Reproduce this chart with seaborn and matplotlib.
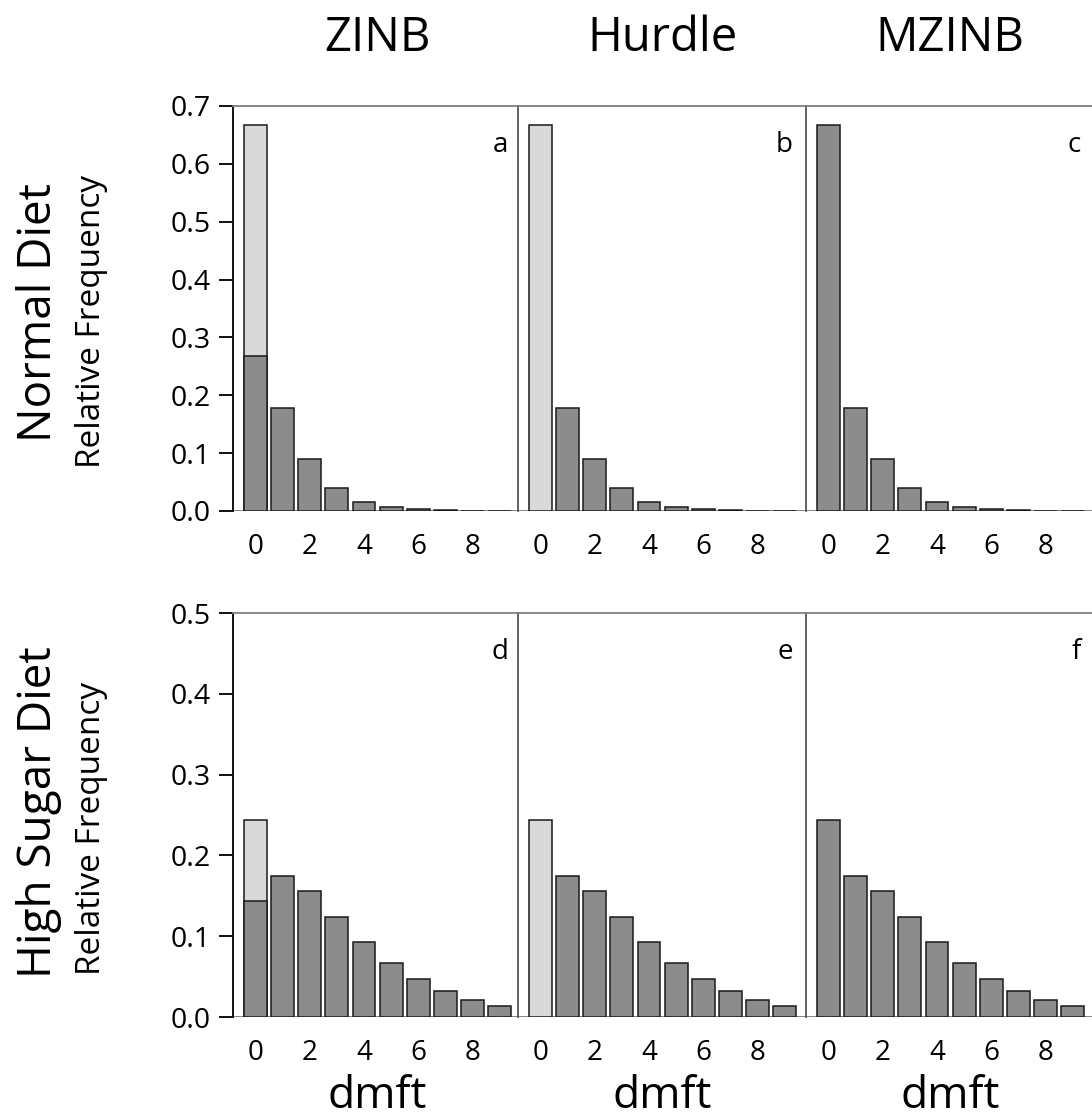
import numpy as np
import pandas as pd
import matplotlib
matplotlib.use("Agg")
import matplotlib.pyplot as plt
import seaborn as sns

# ── DATA ────────────────────────────────────────────────────────────────────
dmft = list(range(10))
models = ["ZINB", "Hurdle", "MZINB"]
diets = ["Normal Diet", "High Sugar Diet"]
panel_tags = [["a", "b", "c"], ["d", "e", "f"]]

# observed zero proportion (light bar / full zero bar)
zero_total = [0.667, 0.244]
# negative-binomial component
normal_nb = [0.268, 0.178, 0.090, 0.040, 0.016, 0.007, 0.003, 0.0012, 0.0005, 0.0002]
high_nb = [0.144, 0.174, 0.156, 0.124, 0.093, 0.067, 0.047, 0.032, 0.021, 0.014]
nb_rows = [normal_nb, high_nb]

y_max = [0.7, 0.5]
y_ticks = [np.arange(0, 0.71, 0.1), np.arange(0, 0.51, 0.1)]
x_ticks = [0, 2, 4, 6, 8]

# ── STYLE ───────────────────────────────────────────────────────────────────
sns.set_style("white")
plt.rcParams["font.family"] = ["Open Sans", "DejaVu Sans"]
plt.rcParams["text.color"] = "black"
plt.rcParams["xtick.color"] = "black"
plt.rcParams["ytick.color"] = "black"

DARK = "#8c8c8c"
LIGHT = "#d9d9d9"
EDGE = "#1a1a1a"
BAR_W = 0.84

W, H = 1092, 1117
fig = plt.figure(figsize=(W / 100, H / 100), dpi=100)

col_left = [233, 518, 806]
col_w = 288
row_top = [106, 613]
row_bot = [511, 1017]


def frac_box(l, t, w, b):
    return [l / W, 1 - b / H, w / W, (b - t) / H]


for r in range(2):
    nb = nb_rows[r]
    for c in range(3):
        ax = fig.add_axes(frac_box(col_left[c], row_top[r], col_w, row_bot[r]))

        # light bar = total observed zeros (ZINB, Hurdle)
        if c in (0, 1):
            light = pd.DataFrame({"dmft": [0], "freq": [zero_total[r]]})
            sns.barplot(data=light, x="dmft", y="freq", native_scale=True,
                        color=LIGHT, saturation=1, width=BAR_W,
                        edgecolor=EDGE, linewidth=1.1, errorbar=None, ax=ax)

        # dark bars = count component
        if c == 0:
            xs, ys = dmft, nb
        elif c == 1:
            xs, ys = dmft[1:], nb[1:]
        else:
            xs, ys = dmft, [zero_total[r]] + nb[1:]
        dark = pd.DataFrame({"dmft": xs, "freq": ys})
        sns.barplot(data=dark, x="dmft", y="freq", native_scale=True,
                    color=DARK, saturation=1, width=BAR_W,
                    edgecolor=EDGE, linewidth=1.1, errorbar=None, ax=ax)

        ax.set_xlim(-0.82, 9.78)
        ax.set_ylim(0, y_max[r])
        ax.axhline(0, color="#7a7a7a", lw=1.3, zorder=0)
        ax.set_xticks(x_ticks)
        ax.set_xticklabels([str(t) for t in x_ticks])
        ax.tick_params(axis="x", length=0, pad=16, labelsize=20)
        ax.set_xlabel("")
        ax.set_ylabel("")

        ax.spines["bottom"].set_visible(False)
        ax.spines["right"].set_visible(False)
        ax.spines["top"].set_color("#808080")
        ax.spines["top"].set_linewidth(1.3)
        if c == 0:
            ax.spines["left"].set_color("#111111")
            ax.spines["left"].set_linewidth(1.4)
            ax.set_yticks(y_ticks[r])
            ax.set_yticklabels([f"{v:.1f}" for v in y_ticks[r]])
            ax.tick_params(axis="y", direction="out", length=10, width=1.4,
                           pad=6, labelsize=20.5, left=True, color="#111111")
        else:
            ax.spines["left"].set_color("#555555")
            ax.spines["left"].set_linewidth(1.3)
            ax.set_yticks([])

        ax.text(1 - 13 / col_w, 0.886, panel_tags[r][c], transform=ax.transAxes,
                ha="right", va="baseline", fontsize=20)

        # column titles / x-axis title
        cx = (col_left[c] + col_w / 2) / W
        if r == 1:
            fig.text(cx, 1 - 1108 / H, "dmft", ha="center", va="baseline",
                     fontsize=32)
        else:
            fig.text(cx, 1 - 51 / H, models[c], ha="center", va="baseline",
                     fontsize=34)

# row labels
row_mid = [313, 812]
rf_mid = [321, 828]
for r in range(2):
    fig.text(51 / W, 1 - row_mid[r] / H, diets[r], rotation=90,
             rotation_mode="anchor", ha="center", va="baseline", fontsize=33)
    fig.text(100 / W, 1 - rf_mid[r] / H, "Relative Frequency", rotation=90,
             rotation_mode="anchor", ha="center", va="baseline", fontsize=24)

plt.savefig("out.png", dpi=100, facecolor="white")
